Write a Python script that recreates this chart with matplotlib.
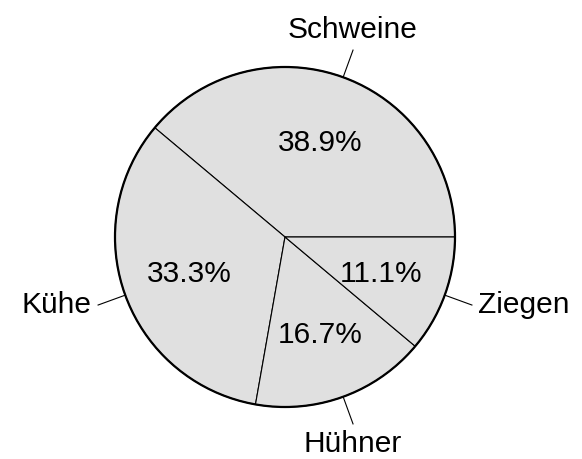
import numpy as np
import matplotlib.pyplot as plt
from matplotlib.patches import Circle
from matplotlib.transforms import ScaledTranslation

plt.rcParams["font.family"] = ["Liberation Sans", "DejaVu Sans"]

# data
labels = ["Schweine", "Kühe", "Hühner", "Ziegen"]
counts = [7, 6, 3, 2]

fig = plt.figure(figsize=(5.82, 4.59), dpi=100)
ax = fig.add_axes([0, 0, 1, 1])

r_px = 170.0
cx, cy = 285.0, 237.0
W, H = 582.0, 459.0

wedges, _, autotexts = ax.pie(
    counts,
    startangle=0,
    counterclock=True,
    colors=["#e0e0e0"] * len(counts),
    wedgeprops=dict(edgecolor="black", linewidth=0.8),
    autopct="%1.1f%%",
    pctdistance=0.6,
    textprops=dict(fontsize=21.5, color="black"),
)
ax.add_patch(Circle((0, 0), 1, fill=False, edgecolor="black", linewidth=1.6))

# nudge percentages down a touch
for t in autotexts:
    t.set_transform(ax.transData + ScaledTranslation(0, -2 / 100, fig.dpi_scale_trans))

for w, lab in zip(wedges, labels):
    ang = np.deg2rad((w.theta1 + w.theta2) / 2)
    c, s = np.cos(ang), np.sin(ang)
    ax.plot([c, 1.17 * c], [s, 1.17 * s], color="black", lw=0.8)
    tx, ty = 1.21 * c, 1.21 * s
    if abs(c) < 0.5:
        ha = "center"
        va = "bottom" if s > 0 else "top"
        tx = 1.17 * c
    else:
        ha = "left" if c > 0 else "right"
        va = "center"
        ty = 1.17 * s
    ax.text(tx, ty, lab, ha=ha, va=va, fontsize=21.5)

ax.set_xlim(-cx / r_px, (W - cx) / r_px)
ax.set_ylim(-(H - cy) / r_px, cy / r_px)
ax.set_aspect("auto")
ax.axis("off")

plt.savefig("out.png", dpi=100)
